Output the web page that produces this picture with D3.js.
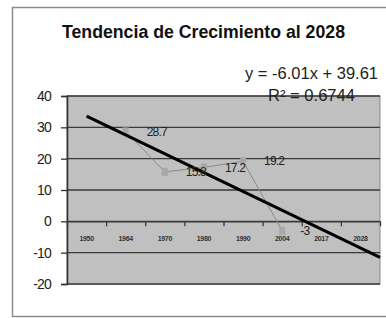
<!DOCTYPE html>
<html lang="en">
<head>
<meta charset="utf-8">
<style type="text/css">
    body { margin: 0; background: #fff; }
    text { font-family: "Liberation Sans", Arial, sans-serif; }
</style>
</head>
<body>
<script src="https://d3js.org/d3.v7.min.js" type="text/javascript"></script>
<script type="text/javascript">
    // categories and values (empty years have no point)
    var years = ["1950", "1964", "1970", "1980", "1990", "2004", "2017", "2028"];
    var values = [null, 28.7, 15.8, 17.2, 19.2, -3, null, null];
    var yTicks = [-20, -10, 0, 10, 20, 30, 40];
    // linear trend as printed on the chart: y = -6.01x + 39.61
    var trendSlope = -6.01, trendIntercept = 39.61;
    var trendRange = [1, 8.5];

    var width = 386, height = 318;
    var plot = {left: 67, right: 380, top: 96, bottom: 284};

    var svg = d3.select("body").append("svg")
        .attr("width", width)
        .attr("height", height);

    // chart area frame
    svg.append("rect")
        .attr("x", 12.5).attr("y", 7.5)
        .attr("width", 400).attr("height", 309)
        .attr("fill", "#fff")
        .attr("stroke", "#8c8c8c").attr("stroke-width", 1.5);

    var x = d3.scaleBand().domain(years).range([plot.left, plot.right]).padding(0);
    var xIdx = d3.scaleLinear().domain([0.5, years.length + 0.5]).range([plot.left, plot.right]);
    var y = d3.scaleLinear().domain([-20, 40]).range([plot.bottom, plot.top]);

    // plot area
    svg.append("rect")
        .attr("x", plot.left).attr("y", plot.top)
        .attr("width", plot.right - plot.left).attr("height", plot.bottom - plot.top)
        .attr("fill", "#c0c0c0")
        .attr("stroke", "#8a8a8a").attr("stroke-width", 1);

    // gridlines
    svg.append("g")
        .selectAll("line")
        .data(yTicks)
        .enter().append("line")
        .attr("x1", plot.left).attr("x2", plot.right)
        .attr("y1", function (d) { return y(d); })
        .attr("y2", function (d) { return y(d); })
        .attr("stroke", "#3a3a3a").attr("stroke-width", 1.3);

    // y axis
    var yAxis = svg.append("g")
        .attr("transform", "translate(" + plot.left + ",0)")
        .call(d3.axisLeft(y).tickValues(yTicks).tickSize(6).tickPadding(10)
            .tickFormat(function (d) { return String(d); }));
    yAxis.select(".domain").attr("stroke", "#333").attr("stroke-width", 1.6);
    yAxis.selectAll(".tick line").attr("stroke", "#333").attr("stroke-width", 1.3);
    yAxis.selectAll(".tick text")
        .attr("font-size", 14).attr("fill", "#222")
        .attr("letter-spacing", -0.8);

    // x axis at zero, ticks between categories
    var xAxis = svg.append("g")
        .attr("transform", "translate(0," + y(0) + ")")
        .call(d3.axisBottom(xIdx)
            .tickValues(d3.range(1.5, years.length + 0.5, 1))
            .tickSize(5).tickFormat(""));
    xAxis.select(".domain").attr("stroke", "#3a3a3a").attr("stroke-width", 1.3);
    xAxis.selectAll(".tick line").attr("stroke", "#3a3a3a").attr("stroke-width", 1.3);

    var xLabels = svg.append("g")
        .attr("transform", "translate(0," + (y(0) + 15) + ")")
        .call(d3.axisBottom(x).tickSize(0).tickPadding(0));
    xLabels.select(".domain").remove();
    xLabels.selectAll(".tick text")
        .attr("font-size", 7).attr("font-weight", "bold").attr("fill", "#333")
        .attr("letter-spacing", -0.3);

    // data series
    var pts = years.map(function (d, i) { return {year: d, value: values[i]}; })
        .filter(function (d) { return d.value !== null; });

    var line = d3.line()
        .x(function (d) { return x(d.year) + x.bandwidth() / 2; })
        .y(function (d) { return y(d.value); });

    svg.append("path")
        .datum(pts)
        .attr("d", line)
        .attr("fill", "none")
        .attr("stroke", "#8a8a8a").attr("stroke-width", 1);

    svg.append("g")
        .selectAll("rect")
        .data(pts)
        .enter().append("rect")
        .attr("x", function (d) { return x(d.year) + x.bandwidth() / 2 - 3; })
        .attr("y", function (d) { return y(d.value) - 4; })
        .attr("width", 6).attr("height", 8)
        .attr("fill", "#a8a8a8");

    // trendline
    svg.append("line")
        .attr("x1", xIdx(trendRange[0]))
        .attr("y1", y(trendSlope * trendRange[0] + trendIntercept))
        .attr("x2", xIdx(trendRange[1]))
        .attr("y2", y(trendSlope * trendRange[1] + trendIntercept))
        .attr("stroke", "#000").attr("stroke-width", 3);

    // data labels
    svg.append("g")
        .selectAll("text")
        .data(pts)
        .enter().append("text")
        .attr("x", function (d) { return x(d.year) + x.bandwidth() / 2 + (d.value < 0 ? 18 : 21); })
        .attr("y", function (d) { return y(d.value); })
        .attr("dy", "0.35em")
        .attr("font-size", 12).attr("fill", "#222")
        .attr("letter-spacing", -0.8)
        .text(function (d) { return d.value; });

    // title
    svg.append("text")
        .attr("x", 62).attr("y", 38)
        .attr("font-size", 18).attr("font-weight", "bold").attr("fill", "#111")
        .attr("textLength", 283).attr("lengthAdjust", "spacingAndGlyphs")
        .text("Tendencia de Crecimiento al 2028");

    // trend equation
    svg.append("text")
        .attr("x", 245).attr("y", 79)
        .attr("font-size", 16).attr("fill", "#222")
        .attr("textLength", 133).attr("lengthAdjust", "spacingAndGlyphs")
        .text("y = -6.01x + 39.61");
    svg.append("text")
        .attr("x", 268).attr("y", 101)
        .attr("font-size", 16).attr("fill", "#222")
        .attr("textLength", 87).attr("lengthAdjust", "spacingAndGlyphs")
        .text("R\u00b2 = 0.6744");
</script>
</body>
</html>
